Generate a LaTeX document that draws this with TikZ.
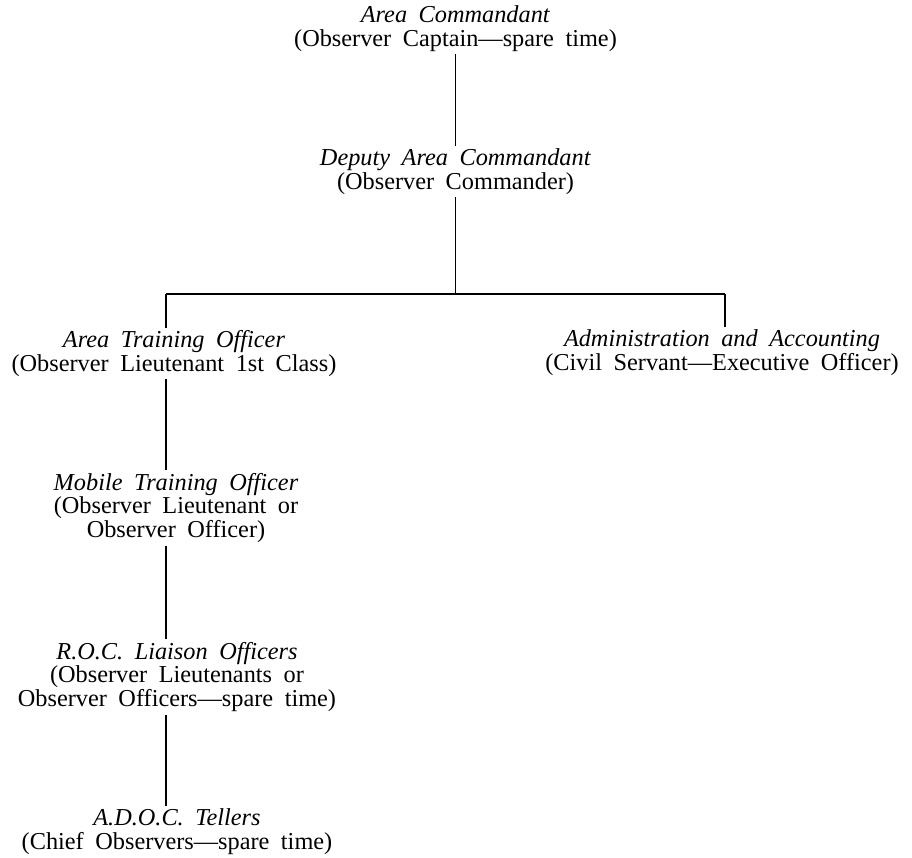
\documentclass[tikz,border=0pt]{standalone}
\usepackage{fontspec}
\setmainfont{Liberation Serif}[WordSpace={1.9,1,1}]
\begin{document}
\begin{tikzpicture}[x=1pt,y=-1pt,
  lbl/.style={align=center,inner sep=0pt,outer sep=3pt,font=\fontsize{24.3}{23.5}\selectfont},
  conn/.style={line width=1.5pt,black}]
\useasboundingbox (0,0) rectangle (912,858);
\node[lbl] (ac) at (455.5,28.5) {\textit{Area Commandant}\\(Observer Captain---spare time)};
\node[lbl] (dac) at (455.5,171.5) {\textit{Deputy Area Commandant}\\(Observer Commander)};
\node[lbl] (ato) at (174,353.5) {\textit{Area Training Officer}\\(Observer Lieutenant 1st Class)};
\node[lbl] (adm) at (722,352.5) {\textit{Administration and Accounting}\\(Civil Servant---Executive Officer)};
\node[lbl] (mto) at (176,508) {\textit{Mobile Training Officer}\\(Observer Lieutenant or\\Observer Officer)};
\node[lbl] (roc) at (177,677) {\textit{R.O.C. Liaison Officers}\\(Observer Lieutenants or\\Observer Officers---spare time)};
\node[lbl] (adoc) at (177,831.5) {\textit{A.D.O.C. Tellers}\\(Chief Observers---spare time)};
\coordinate (hb) at (455.5,294);
\coordinate (hl) at (166,294);
\coordinate (hr) at (725,294);
\draw[conn] (ac.south) -- (dac.north);
\draw[conn] (dac.south) -- (hb);
\draw[conn] (hl) -- (hr);
\draw[conn] (hl) -- (hl |- ato.north);
\draw[conn] (hr) -- (hr |- adm.north);
\draw[conn] ([xshift=-8pt]ato.south) -- ([xshift=-10pt]mto.north);
\draw[conn] ([xshift=-10pt]mto.south) -- ([xshift=-11pt]roc.north);
\draw[conn] ([xshift=-11pt]roc.south) -- ([xshift=-11pt]adoc.north);
\end{tikzpicture}
\end{document}
